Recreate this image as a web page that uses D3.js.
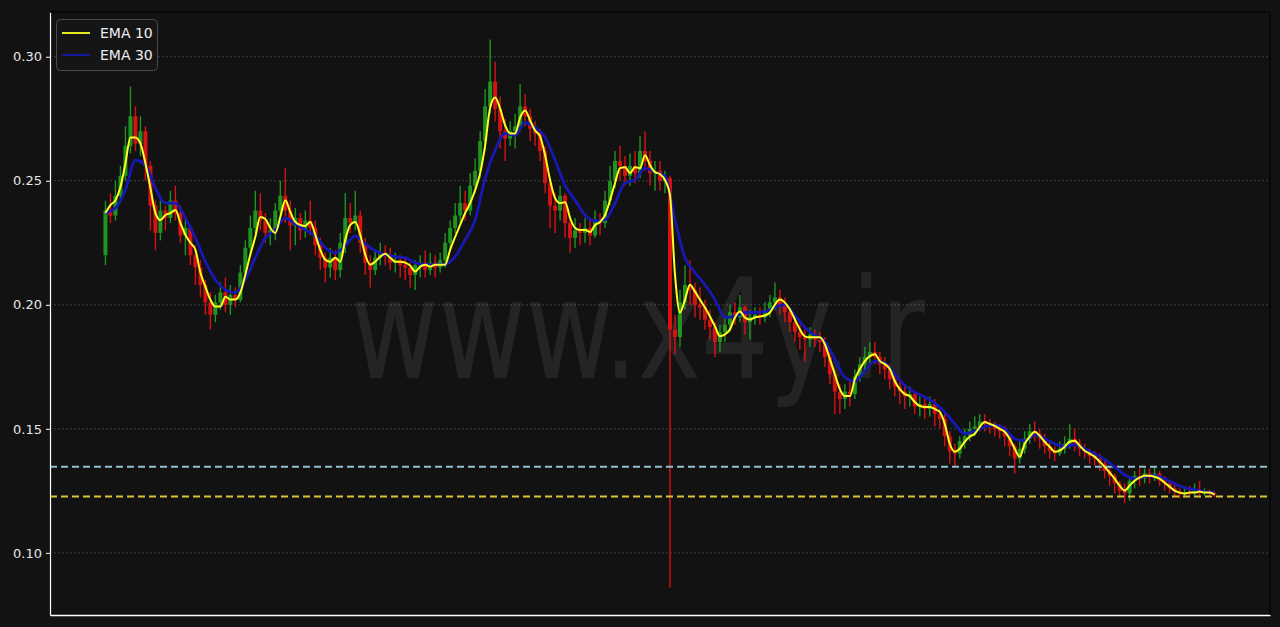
<!DOCTYPE html>
<html><head><meta charset="utf-8">
<script src="https://cdn.jsdelivr.net/npm/d3@7"></script>
<style>html,body{margin:0;padding:0;background:#121212;} svg{display:block;}</style>
</head><body><svg id="c" width="1280" height="627"></svg>
<script>
// ---- data ----
const firstOpen = 0.2200;
const closes = [
0.2380,0.2360,0.2440,0.2520,0.2640,0.2760,0.2650,0.2700,0.2560,0.2400,
0.2290,0.2380,0.2350,0.2420,0.2370,0.2280,0.2310,0.2200,0.2150,0.2080,
0.2010,0.1960,0.2010,0.2050,0.2000,0.2040,0.2020,0.2130,0.2230,0.2310,
0.2380,0.2340,0.2290,0.2300,0.2380,0.2440,0.2380,0.2320,0.2350,0.2300,
0.2340,0.2310,0.2240,0.2190,0.2150,0.2190,0.2140,0.2250,0.2350,0.2330,
0.2360,0.2250,0.2170,0.2140,0.2190,0.2210,0.2200,0.2170,0.2180,0.2160,
0.2150,0.2120,0.2160,0.2170,0.2140,0.2170,0.2150,0.2180,0.2250,0.2310,
0.2360,0.2410,0.2380,0.2480,0.2540,0.2660,0.2800,0.2900,0.2790,0.2700,
0.2670,0.2700,0.2720,0.2800,0.2760,0.2710,0.2690,0.2620,0.2490,0.2400,
0.2380,0.2440,0.2330,0.2270,0.2300,0.2290,0.2310,0.2280,0.2340,0.2330,
0.2420,0.2500,0.2580,0.2560,0.2520,0.2560,0.2530,0.2620,0.2580,0.2530,
0.2540,0.2500,0.2510,0.1900,0.1870,0.2010,0.2080,0.2060,0.2000,0.1990,
0.1940,0.1910,0.1850,0.1890,0.1920,0.1970,0.1950,0.1990,0.1930,0.1950,
0.1960,0.1950,0.1980,0.2010,0.2030,0.2000,0.1970,0.1930,0.1890,0.1870,
0.1860,0.1880,0.1860,0.1850,0.1790,0.1720,0.1650,0.1620,0.1650,0.1640,
0.1710,0.1760,0.1790,0.1810,0.1790,0.1760,0.1740,0.1700,0.1670,0.1650,
0.1630,0.1640,0.1590,0.1600,0.1580,0.1600,0.1560,0.1540,0.1470,0.1410,
0.1400,0.1450,0.1470,0.1500,0.1510,0.1530,0.1520,0.1510,0.1500,0.1490,
0.1470,0.1430,0.1380,0.1420,0.1460,0.1490,0.1480,0.1460,0.1430,0.1410,
0.1400,0.1420,0.1440,0.1460,0.1440,0.1420,0.1410,0.1390,0.1380,0.1360,
0.1330,0.1310,0.1280,0.1250,0.1240,0.1290,0.1310,0.1300,0.1320,0.1310,
0.1320,0.1290,0.1280,0.1260,0.1250,0.1240,0.1245,0.1240,0.1250,0.1240,
0.1245,0.1240,0.1235];
const highs = [
0.2420,0.2450,0.2500,0.2560,0.2720,0.2880,0.2800,0.2760,0.2720,0.2580,
0.2420,0.2420,0.2400,0.2460,0.2480,0.2400,0.2350,0.2320,0.2240,0.2180,
0.2100,0.2050,0.2040,0.2090,0.2110,0.2080,0.2070,0.2160,0.2260,0.2360,
0.2460,0.2450,0.2370,0.2350,0.2410,0.2500,0.2550,0.2420,0.2390,0.2370,
0.2380,0.2420,0.2340,0.2270,0.2210,0.2230,0.2220,0.2290,0.2450,0.2410,
0.2460,0.2380,0.2270,0.2200,0.2220,0.2250,0.2240,0.2230,0.2210,0.2200,
0.2190,0.2170,0.2180,0.2200,0.2220,0.2210,0.2200,0.2210,0.2290,0.2340,
0.2410,0.2480,0.2460,0.2530,0.2590,0.2700,0.2870,0.3070,0.2980,0.2840,
0.2750,0.2740,0.2770,0.2890,0.2850,0.2790,0.2740,0.2710,0.2640,0.2510,
0.2450,0.2480,0.2450,0.2360,0.2350,0.2330,0.2350,0.2340,0.2380,0.2370,
0.2460,0.2560,0.2620,0.2640,0.2600,0.2610,0.2620,0.2680,0.2700,0.2620,
0.2580,0.2580,0.2540,0.2520,0.1960,0.2060,0.2160,0.2180,0.2090,0.2070,
0.2020,0.1980,0.1930,0.1920,0.1950,0.2000,0.2010,0.2040,0.2000,0.1980,
0.1990,0.1990,0.2010,0.2040,0.2090,0.2060,0.2030,0.1990,0.1960,0.1920,
0.1900,0.1910,0.1900,0.1890,0.1870,0.1810,0.1740,0.1680,0.1680,0.1690,
0.1740,0.1790,0.1830,0.1850,0.1850,0.1810,0.1790,0.1760,0.1720,0.1700,
0.1680,0.1670,0.1650,0.1630,0.1620,0.1630,0.1620,0.1590,0.1560,0.1490,
0.1440,0.1470,0.1500,0.1530,0.1550,0.1560,0.1560,0.1540,0.1530,0.1520,
0.1510,0.1480,0.1440,0.1450,0.1490,0.1520,0.1530,0.1500,0.1480,0.1450,
0.1430,0.1450,0.1470,0.1520,0.1500,0.1460,0.1440,0.1420,0.1410,0.1400,
0.1370,0.1350,0.1320,0.1290,0.1280,0.1310,0.1330,0.1340,0.1340,0.1340,
0.1350,0.1330,0.1310,0.1290,0.1280,0.1260,0.1260,0.1270,0.1280,0.1290,
0.1260,0.1255,0.1250];
const lows = [
0.2160,0.2330,0.2340,0.2410,0.2500,0.2610,0.2620,0.2600,0.2500,0.2300,
0.2220,0.2260,0.2300,0.2330,0.2340,0.2250,0.2200,0.2160,0.2080,0.2030,
0.1960,0.1900,0.1930,0.1980,0.1970,0.1960,0.1990,0.2010,0.2110,0.2200,
0.2290,0.2300,0.2250,0.2240,0.2260,0.2350,0.2330,0.2220,0.2240,0.2260,
0.2270,0.2280,0.2200,0.2140,0.2090,0.2110,0.2100,0.2110,0.2210,0.2290,
0.2300,0.2210,0.2120,0.2070,0.2120,0.2160,0.2160,0.2140,0.2130,0.2110,
0.2100,0.2070,0.2060,0.2110,0.2110,0.2120,0.2110,0.2130,0.2150,0.2220,
0.2290,0.2330,0.2340,0.2360,0.2450,0.2510,0.2620,0.2770,0.2740,0.2630,
0.2580,0.2640,0.2630,0.2700,0.2720,0.2660,0.2640,0.2580,0.2450,0.2310,
0.2290,0.2340,0.2270,0.2210,0.2230,0.2240,0.2250,0.2240,0.2270,0.2280,
0.2310,0.2400,0.2470,0.2500,0.2480,0.2480,0.2490,0.2510,0.2540,0.2480,
0.2460,0.2460,0.2450,0.0860,0.1800,0.1830,0.1980,0.2000,0.1950,0.1940,
0.1900,0.1860,0.1790,0.1810,0.1850,0.1890,0.1920,0.1930,0.1880,0.1860,
0.1920,0.1920,0.1930,0.1950,0.1980,0.1960,0.1930,0.1890,0.1850,0.1820,
0.1770,0.1830,0.1830,0.1810,0.1750,0.1680,0.1560,0.1560,0.1580,0.1590,
0.1620,0.1690,0.1730,0.1760,0.1760,0.1720,0.1700,0.1660,0.1630,0.1600,
0.1580,0.1590,0.1560,0.1550,0.1540,0.1550,0.1510,0.1500,0.1430,0.1360,
0.1350,0.1380,0.1420,0.1450,0.1470,0.1490,0.1490,0.1480,0.1470,0.1460,
0.1430,0.1390,0.1320,0.1360,0.1400,0.1440,0.1450,0.1420,0.1400,0.1380,
0.1370,0.1390,0.1400,0.1420,0.1410,0.1390,0.1380,0.1360,0.1350,0.1330,
0.1300,0.1270,0.1240,0.1220,0.1200,0.1210,0.1260,0.1270,0.1280,0.1280,
0.1290,0.1270,0.1250,0.1240,0.1230,0.1220,0.1225,0.1230,0.1230,0.1230,
0.1230,0.1230,0.1225];
// EMA 10, one value per candle
const ema10 = [
0.2370,0.2402,0.2422,0.2475,0.2571,0.2675,0.2675,0.2651,0.2571,0.2471,
0.2370,0.2342,0.2362,0.2370,0.2382,0.2330,0.2282,0.2250,0.2222,0.2130,
0.2073,0.2021,0.1993,0.1993,0.2033,0.2021,0.2021,0.2049,0.2122,0.2202,
0.2274,0.2354,0.2346,0.2310,0.2290,0.2354,0.2422,0.2374,0.2334,0.2322,
0.2318,0.2334,0.2282,0.2222,0.2182,0.2174,0.2190,0.2174,0.2262,0.2322,
0.2334,0.2282,0.2202,0.2162,0.2174,0.2194,0.2206,0.2190,0.2174,0.2174,
0.2170,0.2158,0.2134,0.2154,0.2162,0.2154,0.2162,0.2162,0.2162,0.2222,
0.2274,0.2322,0.2370,0.2410,0.2463,0.2531,0.2643,0.2795,0.2836,0.2791,
0.2723,0.2691,0.2691,0.2755,0.2783,0.2743,0.2703,0.2679,0.2603,0.2503,
0.2430,0.2410,0.2414,0.2350,0.2310,0.2302,0.2302,0.2294,0.2322,0.2334,
0.2362,0.2422,0.2491,0.2551,0.2555,0.2531,0.2555,0.2551,0.2603,0.2563,
0.2535,0.2527,0.2503,0.2442,0.2122,0.1969,0.2021,0.2081,0.2053,0.2021,
0.1989,0.1953,0.1913,0.1873,0.1881,0.1901,0.1949,0.1973,0.1949,0.1941,
0.1949,0.1953,0.1957,0.1969,0.2001,0.2021,0.2009,0.1981,0.1941,0.1901,
0.1873,0.1869,0.1869,0.1869,0.1841,0.1781,0.1720,0.1660,0.1632,0.1632,
0.1700,0.1741,0.1773,0.1793,0.1801,0.1773,0.1761,0.1741,0.1692,0.1660,
0.1640,0.1632,0.1608,0.1592,0.1588,0.1588,0.1580,0.1568,0.1520,0.1440,
0.1408,0.1420,0.1448,0.1468,0.1480,0.1508,0.1528,0.1520,0.1512,0.1500,
0.1488,0.1460,0.1420,0.1388,0.1440,0.1468,0.1488,0.1472,0.1448,0.1428,
0.1408,0.1412,0.1428,0.1448,0.1452,0.1432,0.1412,0.1400,0.1388,0.1368,
0.1347,0.1323,0.1299,0.1271,0.1251,0.1271,0.1291,0.1303,0.1311,0.1311,
0.1307,0.1299,0.1283,0.1267,0.1251,0.1243,0.1239,0.1243,0.1243,0.1247,
0.1243,0.1243,0.1235];
// EMA 30, read at every second candle
const ema30Step = 2;
const ema30 = [
0.2370,0.2390,0.2463,0.2583,0.2563,0.2471,0.2410,0.2410,0.2350,0.2270,
0.2174,0.2102,0.2061,0.2049,0.2102,0.2190,0.2270,0.2302,0.2350,0.2326,
0.2302,0.2278,0.2230,0.2210,0.2238,0.2278,0.2246,0.2218,0.2202,0.2194,
0.2190,0.2170,0.2162,0.2162,0.2162,0.2194,0.2262,0.2342,0.2511,0.2623,
0.2691,0.2683,0.2735,0.2715,0.2675,0.2583,0.2483,0.2422,0.2362,0.2338,
0.2342,0.2410,0.2491,0.2503,0.2551,0.2535,0.2519,0.2342,0.2190,0.2130,
0.2081,0.2021,0.1949,0.1953,0.1969,0.1969,0.1973,0.1989,0.2001,0.1957,
0.1909,0.1877,0.1853,0.1781,0.1708,0.1692,0.1733,0.1773,0.1765,0.1720,
0.1676,0.1648,0.1628,0.1604,0.1568,0.1520,0.1480,0.1492,0.1508,0.1516,
0.1500,0.1460,0.1452,0.1476,0.1460,0.1440,0.1428,0.1436,0.1420,0.1400,
0.1376,0.1347,0.1315,0.1299,0.1307,0.1311,0.1299,0.1279,0.1263,0.1255,
0.1247,0.1243];
const levelLines = [0.1347, 0.1227];
const levelColors = ["#94bfcf", "#d9c236"];
const yTicks = [0.10, 0.15, 0.20, 0.25, 0.30];
const legendLabels = ["EMA 10", "EMA 30"];
const lineColors = ["#ffff22", "#1818b4"];
const watermark = "www.x4y.ir";

// ---- drawing ----
const W = 1280, H = 627;
const m = {left: 50, right: 1270, top: 12, bottom: 615};
const svg = d3.select("#c");
svg.append("rect").attr("width", W).attr("height", H).attr("fill", "#121212");

const N = closes.length;
const opens = closes.map((c, i) => i === 0 ? firstOpen : closes[i - 1]);
const x = d3.scaleLinear().domain([-0.05 * (N - 1), 1.05 * (N - 1)]).range([m.left, m.right]);
const lo = d3.min(lows), hi = d3.max(highs), span = hi - lo;
const y = d3.scaleLinear().domain([lo - 0.05 * span, hi + 0.05 * span]).range([m.bottom, m.top]);

svg.append("clipPath").attr("id", "clip").append("rect")
  .attr("x", m.left).attr("y", m.top).attr("width", m.right - m.left).attr("height", m.bottom - m.top);

// grid
svg.append("g").selectAll("line").data(yTicks).join("line")
  .attr("x1", m.left).attr("x2", m.right)
  .attr("y1", d => y(d)).attr("y2", d => y(d))
  .attr("stroke", "#4a4a4a").attr("stroke-width", 0.8).attr("stroke-dasharray", "2,2");

// watermark (slightly condensed, taller glyphs as in the reference)
svg.append("text").text(watermark)
  .attr("text-anchor", "middle")
  .attr("transform", "translate(638,378) scale(1,1.3)")
  .attr("font-family", "DejaVu Sans").attr("font-size", 107)
  .attr("fill", "#ffffff").attr("fill-opacity", 0.08);

const plot = svg.append("g").attr("clip-path", "url(#clip)");

// candles
const step = x(1) - x(0);
const bw = Math.max(1, step * 0.8);
const col = i => closes[i] >= opens[i] ? "#21a321" : "#ec1212";
const cg = plot.append("g").attr("opacity", 0.9);
cg.selectAll("line").data(d3.range(N)).join("line")
  .attr("x1", i => x(i)).attr("x2", i => x(i))
  .attr("y1", i => y(Math.max(highs[i], opens[i], closes[i])))
  .attr("y2", i => y(Math.min(lows[i], opens[i], closes[i])))
  .attr("stroke", col).attr("stroke-width", 1.4);
cg.selectAll("rect").data(d3.range(N)).join("rect")
  .attr("x", i => x(i) - bw / 2).attr("width", bw)
  .attr("y", i => y(Math.max(opens[i], closes[i])))
  .attr("height", i => Math.max(1, Math.abs(y(opens[i]) - y(closes[i]))))
  .attr("fill", col);

// level lines
plot.append("g").selectAll("line").data(levelLines).join("line")
  .attr("x1", m.left).attr("x2", m.right)
  .attr("y1", d => y(d)).attr("y2", d => y(d))
  .attr("stroke", (d, i) => levelColors[i]).attr("stroke-width", 2)
  .attr("stroke-dasharray", "7,4");

// EMA lines
const line30 = d3.line().x((d, i) => x(i * ema30Step)).y(d => y(d)).curve(d3.curveMonotoneX);
const line10 = d3.line().x((d, i) => x(i)).y(d => y(d)).curve(d3.curveMonotoneX);
plot.append("path").datum(ema30).attr("d", line30).attr("fill", "none")
  .attr("stroke", lineColors[1]).attr("stroke-width", 2.8);
plot.append("path").datum(ema10).attr("d", line10).attr("fill", "none")
  .attr("stroke", lineColors[0]).attr("stroke-width", 2);

// axes / spines
const ay = svg.append("g").attr("transform", `translate(${m.left},0)`)
  .call(d3.axisLeft(y).tickValues(yTicks).tickFormat(d3.format(".2f")).tickSize(4).tickSizeOuter(0));
ay.select(".domain").attr("stroke", "#ffffff").attr("stroke-width", 1.2);
ay.selectAll(".tick line").attr("stroke", "#ffffff");
ay.selectAll(".tick text").attr("fill", "#e6e6e6").attr("font-family", "DejaVu Sans").attr("font-size", 13).attr("x", -8);
const ab = svg.append("g").attr("transform", `translate(0,${m.bottom})`)
  .call(d3.axisBottom(x).tickValues([]).tickSizeOuter(0));
ab.select(".domain").attr("stroke", "#ffffff").attr("stroke-width", 1.5);
svg.append("line").attr("x1", m.left).attr("x2", m.right).attr("y1", m.top).attr("y2", m.top).attr("stroke", "#000").attr("stroke-width", 1.2);
svg.append("line").attr("x1", m.right).attr("x2", m.right).attr("y1", m.top).attr("y2", m.bottom).attr("stroke", "#000").attr("stroke-width", 1.2);

// legend
const lg = svg.append("g");
lg.append("rect").attr("x", 56.5).attr("y", 19.5).attr("width", 101).attr("height", 51).attr("rx", 4)
  .attr("fill", "#151515").attr("stroke", "#4a4a4a").attr("stroke-width", 1);
legendLabels.forEach((t, i) => {
  const yy = 33 + i * 22;
  lg.append("line").attr("x1", 62).attr("x2", 90).attr("y1", yy).attr("y2", yy)
    .attr("stroke", lineColors[i]).attr("stroke-width", 1.8);
  lg.append("text").text(t).attr("x", 100).attr("y", yy + 5)
    .attr("font-family", "DejaVu Sans").attr("font-size", 14).attr("fill", "#eeeeee");
});
</script></body></html>
